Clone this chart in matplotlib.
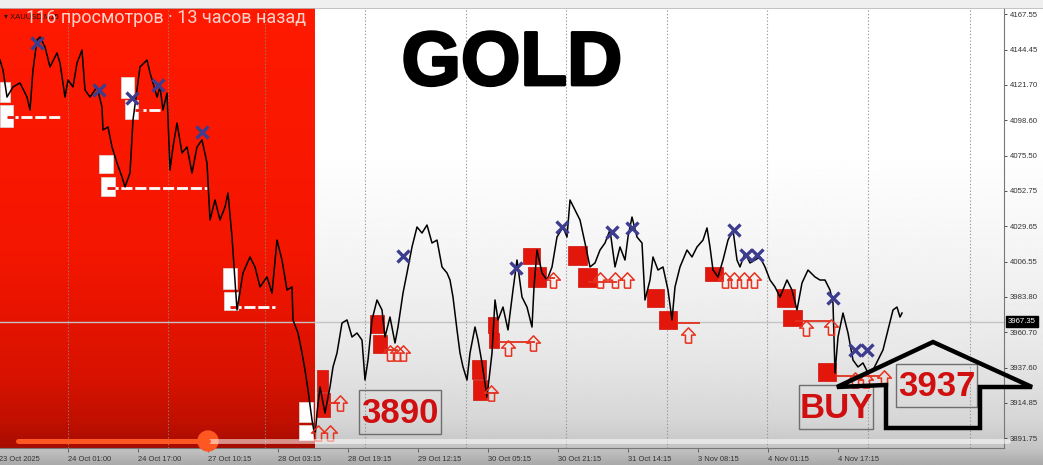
import numpy as np
import matplotlib
matplotlib.use("Agg")
import matplotlib.pyplot as plt
from matplotlib.patches import Rectangle, Circle, Polygon
import matplotlib.patheffects as pe

# %% data (XAUUSD M15)
bar_idx = [0, 3, 7, 13, 20, 27, 30, 33, 37, 40, 45, 50, 57, 60, 65, 68, 73, 77, 82, 85,
           90, 97, 102, 103, 108, 112, 117, 122, 125, 130, 133, 137, 140, 147, 150, 153, 157, 160, 163, 167,
           170, 173, 177, 182, 187, 192, 197, 202, 207, 210, 215, 220, 225, 228, 232, 235, 237, 243, 250, 255,
           260, 267, 272, 277, 282, 287, 292, 293, 298, 302, 305, 308, 312, 315,
           317, 320, 325, 330, 333, 337, 342, 347, 352, 357, 362, 365, 368, 372, 377, 382, 385, 390, 395, 398,
           403, 407, 412, 417, 422, 427, 432, 437, 442, 447, 450, 453, 457, 460, 463, 467, 470, 475, 478, 482,
           487, 492, 495, 498, 503, 508, 513, 517, 522, 527, 532, 534, 537, 542, 547, 552, 557, 563, 567, 570,
           575, 580, 585, 590, 595, 600, 605, 610, 615, 620, 625,
           628, 632, 637, 642, 645, 650, 653, 658, 663, 668, 672, 675, 680, 687, 692, 697, 703, 707, 710, 713,
           718, 723, 728, 733, 737, 740, 745, 750, 755, 760, 765, 770, 775, 780, 787, 792, 797, 802, 808, 815,
           820, 825, 830, 833, 835, 838, 843, 848, 853, 858, 863, 868, 873, 878, 883, 888, 893, 897, 900, 902]
price = [4137.8, 4131.3, 4113.7, 4120.3, 4122.9, 4113.7, 4105.3, 4131.3, 4150.8, 4152.8,
         4146.3, 4133.3, 4142.4, 4135.9, 4113.7, 4124.8, 4120.3, 4135.9, 4144.3, 4118.3,
         4113.7, 4120.3, 4107.2, 4092.3, 4094.2, 4081.2, 4070.8, 4061.7, 4055.2, 4064.3,
         4098.8, 4118.3, 4133.3, 4137.8, 4129.4, 4122.9, 4113.7, 4120.3, 4105.3, 4116.3,
         4066.2, 4081.2, 4096.8, 4077.3, 4081.2, 4064.3, 4081.2, 4085.8, 4070.8, 4033.7,
         4046.7, 4033.7, 4042.1, 4051.2, 4022.6, 3994.6, 3975.1, 3999.2, 4009.6, 4003.1,
         3990.1, 3996.6, 3986.1, 4020.6, 4007.6, 3988.1, 3990.1, 3968.6, 3960.1, 3947.1,
         3936.0, 3923.0, 3903.5, 3892.4,
         3908.0, 3925.0, 3908.0, 3925.0, 3938.0, 3947.1, 3966.6, 3968.6, 3957.5, 3960.1,
         3955.5, 3929.5, 3942.5, 3968.6, 3981.6, 3975.1, 3957.5, 3970.5, 3953.6, 3964.0,
         3986.1, 3999.2, 4016.1, 4029.1, 4025.2, 4030.4, 4018.7, 4020.6, 4003.1, 3999.2,
         3994.6, 3983.5, 3962.1, 3947.1, 3938.0, 3929.5, 3947.1, 3964.0, 3955.5, 3940.6,
         3918.4, 3947.1, 3981.6, 3968.6, 3977.0, 3962.1, 3988.1, 4007.6, 3983.5, 3977.0,
         3964.0, 3990.1, 4014.1, 3999.2, 3994.6, 4003.1, 4022.6, 4029.1, 4022.6, 4046.7,
         4040.2, 4033.7, 4018.7, 4003.1, 4005.7, 4014.1, 4018.7, 4027.2, 4003.1, 4016.1,
         4007.6,
         4022.6, 4035.6, 4022.6, 4018.7, 3981.6, 3994.6, 4009.6, 4001.1, 4003.1, 3988.1,
         3968.6, 3990.1, 4003.1, 4014.1, 4009.6, 4016.1, 4020.6, 4028.5, 4016.1, 4001.1,
         3996.6, 4007.6, 4020.6, 4027.2, 4007.6, 4003.1, 4012.2, 4005.7, 4007.6, 4009.6,
         4003.1, 3994.6, 3990.1, 3983.5, 3994.6, 3988.1, 3975.1, 3992.7, 4001.1, 3996.6,
         3994.6, 3994.6, 3988.1, 3979.6, 3934.1, 3957.5, 3973.1, 3960.1, 3942.5, 3938.0,
         3940.6, 3934.1, 3936.0, 3942.5, 3949.1, 3962.1, 3975.1, 3977.0, 3970.5, 3973.1]

# red demand zones (start bar, end bar, top, bottom)
red_zone_start = [317, 317, 370, 373, 472, 473, 488, 489, 523, 528, 568, 578, 647, 659, 705, 777, 783, 818]
red_zone_end = [328, 330, 384, 387, 486, 487, 498, 499, 540, 546, 587, 597, 664, 677, 723, 795, 802, 836]
red_zone_top = [3936.0, 3921.0, 3971.8, 3958.8, 3942.5, 3929.5, 3970.5, 3960.1, 4015.4, 4003.1,
                4016.7, 4002.4, 3988.7, 3974.4, 4003.1, 3988.7, 3975.1, 3940.6]
red_zone_bottom = [3921.7, 3905.4, 3960.1, 3947.1, 3930.2, 3916.5, 3960.1, 3950.3, 4005.0, 3990.1,
                   4004.4, 3990.1, 3977.0, 3962.7, 3994.0, 3977.0, 3964.7, 3928.9]

# white zones inside the red (down-trend) block
white_zone_start = [0, 0, 121, 125, 99, 101, 223, 224, 299, 299]
white_zone_end = [10, 13, 134, 138, 113, 115, 237, 238, 313, 313]
white_zone_top = [4123.5, 4108.5, 4126.8, 4111.8, 4076.0, 4061.7, 4002.4, 3986.8, 3915.2, 3900.2]
white_zone_bottom = [4110.5, 4094.2, 4113.1, 4099.4, 4064.3, 4049.3, 3988.7, 3975.1, 3902.2, 3890.4]

white_level_start = [7, 135, 107, 230]
white_level_end = [62, 160, 207, 275]
white_level_price = [4100.7, 4105.3, 4054.5, 3977.0]

red_level_start = [328, 384, 487, 498, 546, 588, 677, 795, 836]
red_level_end = [340, 398, 497, 535, 555, 617, 700, 830, 880]
red_level_price = [3914.5, 3949.0, 3921.0, 3954.2, 3995.9, 3993.3, 3966.6, 3967.9, 3932.1]

arrow_bar = [318, 330, 340, 390, 397, 403, 491, 508, 533, 553, 600, 615, 627, 688,
             725, 734, 744, 754, 806, 831, 855, 866, 884]
arrow_price = [3895.0, 3895.0, 3914.5, 3947.1, 3947.1, 3947.1, 3921.0, 3950.3, 3953.6, 3994.6,
               3994.6, 3994.6, 3994.6, 3958.8, 3994.6, 3994.6, 3994.6, 3994.6, 3963.4, 3964.0,
               3929.5, 3929.5, 3930.8]

cross_bar = [37, 99, 132, 158, 202, 403, 516, 562, 612, 632, 734, 746, 757, 833, 855, 867]
cross_price = [4148.9, 4118.3, 4113.1, 4121.6, 4091.0, 4010.2, 4002.4, 4029.1, 4025.9, 4028.5,
               4027.2, 4010.9, 4010.9, 3982.9, 3949.1, 3949.1]

price_ticks = [4167.55, 4144.45, 4121.70, 4098.60, 4075.50, 4052.75, 4029.65,
               4006.55, 3983.80, 3960.70, 3937.60, 3914.85, 3891.75]
last_price = 3967.35

date_tick_bars = [-1, 68, 138, 208, 278, 348, 418, 488, 558, 628, 698, 768, 838]
date_labels = ["23 Oct 2025", "24 Oct 01:00", "24 Oct 17:00", "27 Oct 10:15", "28 Oct 03:15",
               "28 Oct 19:15", "29 Oct 12:15", "30 Oct 05:15", "30 Oct 21:15", "31 Oct 14:15",
               "3 Nov 08:15", "4 Nov 01:15", "4 Nov 17:15"]
separator_bars = [68, 168, 265, 365, 466, 566, 667, 767, 868, 970]

# %% figure
W, H = 1043, 465
fig = plt.figure(figsize=(W / 100, H / 100), dpi=100)

# background (video overlay darkens the bottom)
bg = fig.add_axes([0, 0, 1, 1])
bg.set_axis_off()
rows = np.arange(H)
shade = np.interp(rows, [0, 150, 250, 350, 420, 448, 465], [1.0, 1.0, 0.96, 0.91, 0.84, 0.77, 0.66])
bg.imshow(np.repeat(shade[:, None], 2, axis=1), cmap="gray", vmin=0, vmax=1,
          aspect="auto", extent=[0, W, H, 0])
bg.set_xlim(0, W)
bg.set_ylim(H, 0)

ylo, yhi = 3885.24, 4171.68
ax = fig.add_axes([0, 17 / H, 1004 / W, 440 / H])
ax.set_facecolor("none")

# red down-trend block
rp = np.linspace(8, 448, 440)
r = np.interp(rp, [8, 250, 380, 425, 448], [255, 245, 215, 190, 165]) / 255
g = np.interp(rp, [8, 250, 380, 425, 448], [26, 22, 18, 15, 12]) / 255
red_img = np.stack([r, g, np.zeros_like(r)], axis=-1)[:, None, :]
ax.imshow(red_img, extent=[0, 315, ylo, yhi], aspect="auto", zorder=0)

for gx in separator_bars:
    ax.axvline(gx, color="#8c8c8c", lw=0.8, ls=(0, (1.2, 1.8)), alpha=0.85, zorder=1)
ax.axhline(last_price, color="#c4c4c4", lw=1, zorder=1)

for x0, x1, hi, lo in zip(white_zone_start, white_zone_end, white_zone_top, white_zone_bottom):
    ax.add_patch(Rectangle((x0, lo), x1 - x0, hi - lo, fc="white", ec="#dddddd", lw=0.5, zorder=2))
for x0, x1, hi, lo in zip(red_zone_start, red_zone_end, red_zone_top, red_zone_bottom):
    ax.add_patch(Rectangle((x0, lo), x1 - x0, hi - lo, fc="#e3160c", ec="#d01008", lw=0.5, zorder=2))

ax.hlines(white_level_price, white_level_start, white_level_end, color="white",
          lw=2, ls=(0, (4, 1)), zorder=3)
ax.hlines(white_level_price, white_level_start, [s + 8 for s in white_level_start],
          color="#e3160c", lw=2, zorder=3)
ax.hlines(red_level_price, red_level_start, red_level_end, color="#e0301e", lw=1.3, zorder=3)

ax.plot(bar_idx, price, color="black", lw=1.1, zorder=4)

up_arrow = [(-0.4, -1), (0.4, -1), (0.4, 0.05), (0.9, 0.05), (0, 1), (-0.9, 0.05), (-0.4, 0.05), (-0.4, -1)]
ax.plot(arrow_bar, arrow_price, ls="none", marker=up_arrow, ms=11, mfc="none",
        mec="#e8321f", mew=1.1, zorder=5)
ax.plot(cross_bar, cross_price, ls="none", marker="x", ms=9, mew=2.4, color="#3d3d8f", zorder=6)

ax.set_xlim(0, 1004)
ax.set_ylim(ylo, yhi)

# axes like the terminal
for s in ["left", "top"]:
    ax.spines[s].set_visible(False)
for s in ["right", "bottom"]:
    ax.spines[s].set_color("#777777")
    ax.spines[s].set_linewidth(0.8)
ax.yaxis.tick_right()
ax.set_yticks(price_ticks)
ax.set_yticklabels([f"{p:.2f}" for p in price_ticks], family="Liberation Sans")
ax.tick_params(axis="y", labelsize=5.6, colors="#333333", length=2.5, width=0.6, pad=1.5)
ax.set_xticks(date_tick_bars[1:])
ax.set_xticklabels([])
ax.tick_params(axis="x", length=3, width=0.6, colors="#555555")
for bx, lbl in zip(date_tick_bars, date_labels):
    ax.annotate(lbl, xy=(bx, 0), xycoords=("data", "axes fraction"), xytext=(0, -5.5),
                textcoords="offset points", ha="left", va="top", fontsize=5.4,
                family="Liberation Sans", color="#333333", annotation_clip=False)
ax.annotate(f"{last_price:.2f}", xy=(1, last_price), xycoords=("axes fraction", "data"),
            xytext=(3, 0), textcoords="offset points", ha="left", va="center", color="white",
            fontsize=5.6, family="Liberation Sans", annotation_clip=False,
            bbox=dict(boxstyle="square,pad=0.25", fc="black", ec="black"))

# %% overlay: toolbar, video caption, hand drawn labels
ov = fig.add_axes([0, 0, 1, 1], zorder=10)
ov.set_axis_off()
ov.set_facecolor("none")
ov.set_xlim(0, W)
ov.set_ylim(H, 0)

ov.add_patch(Rectangle((0, 0), W, 8, fc="#efefef", ec="none"))
ov.plot([0, W], [8, 8], color="#b8b8b8", lw=0.6)
ov.text(4, 17, "▾ XAUUSD,M15", fontsize=5.5, color="#301010", va="center",
        family=["Liberation Sans", "DejaVu Sans"])
ov.text(26, 18, "116 просмотров · 13 часов назад", color="white", alpha=0.8, fontsize=13,
        family="Roboto", va="center", ha="left")

ov.text(512, 85, "GOLD", fontsize=55, fontweight="bold", family="Liberation Sans",
        ha="center", va="baseline", color="black",
        path_effects=[pe.withStroke(linewidth=2, foreground="black")])

for (bx, by, bw, bh), txt in zip([(359, 390, 82, 44), (799, 385, 74, 44), (896, 364, 81, 43)],
                                 ["3890", "BUY", "3937"]):
    ov.add_patch(Rectangle((bx, by), bw, bh, fill=False, ec="#6e6e6e", lw=1))
    ov.text(bx + bw / 2, by + bh / 2 + 1, txt, fontsize=25, fontweight="bold",
            family="Liberation Sans", color="#d01010", ha="center", va="center")

ov.add_patch(Polygon([(837, 387), (933, 342), (1032, 387), (980, 387), (980, 428),
                      (886, 428), (886, 385)], closed=True, fill=False, ec="black",
                     lw=3.2, joinstyle="miter"))

# video progress bar
ov.plot([208, 1008], [441, 441], color="white", alpha=0.55, lw=3.5, solid_capstyle="round")
ov.plot([18, 208], [441, 441], color="#ff5722", lw=3.6, solid_capstyle="round")
ov.add_patch(Circle((208, 441), 10, color="#ff5722"))

fig.savefig("out.png", dpi=100)
